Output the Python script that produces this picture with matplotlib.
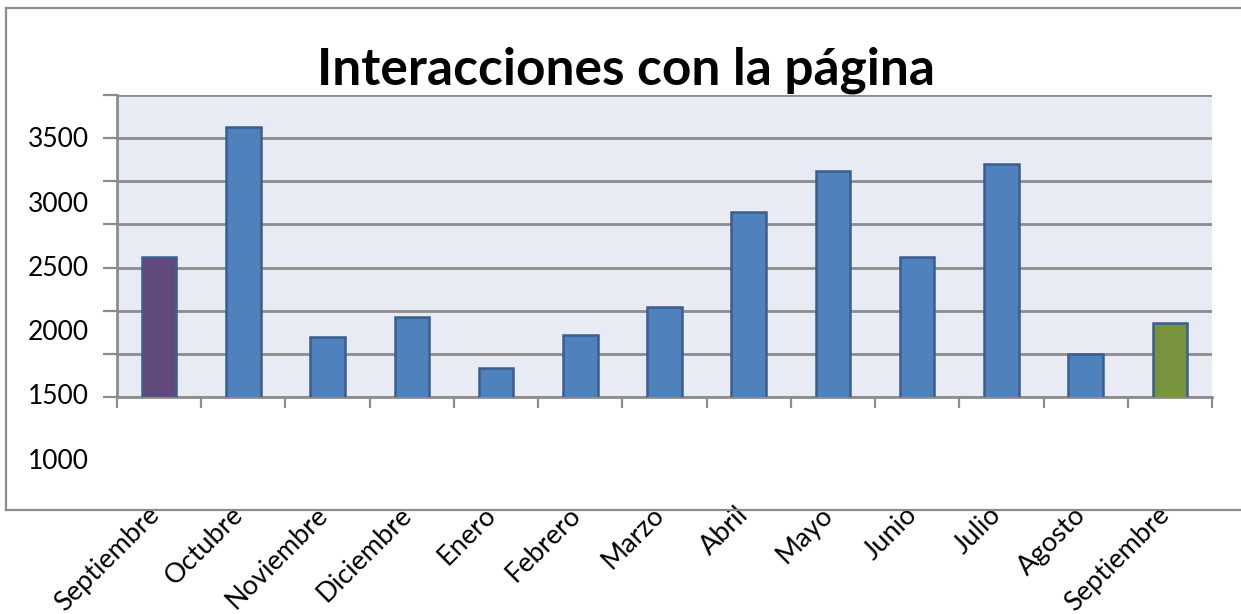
import numpy as np
import matplotlib
matplotlib.use("Agg")
import matplotlib.pyplot as plt
import matplotlib.transforms as mtransforms

plt.rcParams['font.family'] = ['Lato', 'DejaVu Sans']

meses = ['Septiembre', 'Octubre', 'Noviembre', 'Diciembre', 'Enero', 'Febrero',
         'Marzo', 'Abril', 'Mayo', 'Junio', 'Julio', 'Agosto', 'Septiembre']
interacciones = [2590, 3600, 1967, 2122, 1725, 1982, 2200,
                 2940, 3257, 2590, 3312, 1834, 2075]
etiquetas_y = [1000, 1500, 2000, 2500, 3000, 3500]

colores = ['#604A7B'] + ['#4F81BD'] * 11 + ['#77933C']

W, H = 1241, 614
fig = plt.figure(figsize=(W / 100, H / 100), dpi=100)

# outer chart frame (open on the right like the original)
gris = '#8c8c8c'
fig.add_artist(plt.Line2D([6 / W, 1.0], [1 - 8 / H, 1 - 8 / H], color=gris, lw=1.6))
fig.add_artist(plt.Line2D([6 / W, 1.0], [1 - 510 / H, 1 - 510 / H], color=gris, lw=1.6))
fig.add_artist(plt.Line2D([6 / W, 6 / W], [1 - 8 / H, 1 - 510 / H], color=gris, lw=1.6))

ax = fig.add_axes([117 / W, 1 - 397 / H, (1212 - 117) / W, (397 - 95) / H])
ax.set_facecolor('#E8EAF4')

x = np.arange(len(meses))
ax.bar(x, interacciones, width=0.41, bottom=0, color=colores,
       edgecolor='#3A5E8C', linewidth=1.8, zorder=3)

ymin, ymax = 1500, 3848
ax.set_xlim(-0.5, len(meses) - 0.5)
ax.set_ylim(ymin, ymax)

# gridlines / tick marks (not aligned with the labels, as in the original)
grid = np.linspace(ymin, ymax, 8)
ax.set_yticks(grid)
ax.set_yticklabels([])
ax.tick_params(axis='y', length=10, width=1.6, color=gris)
ax.yaxis.grid(True, color=gris, lw=2)
ax.set_axisbelow(True)

for v in etiquetas_y:
    ax.text(-0.026, v, str(v), transform=ax.get_yaxis_transform(),
            ha='right', va='center', fontsize=19, color='black', clip_on=False)

ax.set_xticks(np.arange(len(meses) + 1) - 0.5)
ax.set_xticklabels([])
ax.tick_params(axis='x', length=8, width=1.6, color=gris)
ax.set_xticks(x, minor=True)
ax.set_xticklabels(meses, minor=True, rotation=45, ha='right', va='center',
                   rotation_mode='anchor', fontsize=19.5)
ax.tick_params(axis='x', which='minor', length=0, pad=82)
shift = mtransforms.ScaledTranslation(-4 / 100, 0, fig.dpi_scale_trans)
for lab in ax.get_xticklabels(minor=True):
    lab.set_transform(lab.get_transform() + shift)

for s in ['top', 'right']:
    ax.spines[s].set_visible(False)
for s in ['left', 'bottom']:
    ax.spines[s].set_color(gris)
    ax.spines[s].set_linewidth(2)

fig.text(626 / W, 1 - 70 / H, 'Interacciones con la página', ha='center', va='center',
         fontsize=37, fontweight='bold')

fig.savefig('out.png', dpi=100)
